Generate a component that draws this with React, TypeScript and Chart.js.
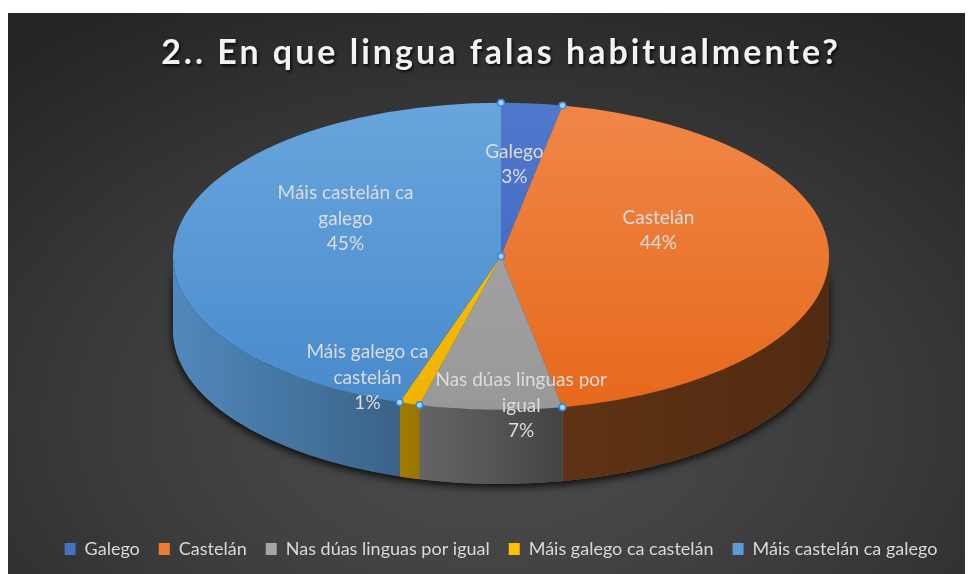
import React, { useEffect, useRef } from "react";
import { Chart, registerables } from "chart.js";

Chart.register(...registerables);

// ---- data ----
const categories = [
  "Galego",
  "Castelán",
  "Nas dúas linguas por igual",
  "Máis galego ca castelán",
  "Máis castelán ca galego",
];
const percentages = [3, 44, 7, 1, 45];
const labelLines = [
  ["Galego"],
  ["Castelán"],
  ["Nas dúas linguas por", "igual"],
  ["Máis galego ca", "castelán"],
  ["Máis castelán ca", "galego"],
];
const titleText = "2.. En que lingua falas habitualmente?";

// ---- style ----
const sliceColors = ["#4472C4", "#ED7D31", "#A5A5A5", "#FFC000", "#5B9BD5"];
const faceTop = ["#5079cc", "#ef8748", "#a9a9a9", "#ffc20a", "#68a5dd"];
const faceBottom = ["#3b60bf", "#e7681b", "#989898", "#efb300", "#478acb"];
const RX_FRAC = 0.3475; // top-face x radius / chart area width
const TILT = 0.468; // ry / rx
const DEPTH = 0.226; // wall height / rx
const LABEL_LIFT = 0.17; // perspective lift of the label centre (fraction of ry)
// [radial fraction, dx, dy] for each data label
const labelPlacement = [
  [0.43, 0, 0],
  [0.48, 0, 0],
  [1.144, 32, 0],
  [1.0, -42, 0],
  [0.48, 0, 0],
];
const labelFont = "19px Lato";
const labelLineHeight = 25.5;

function geometry(chart: any) {
  const meta = chart.getDatasetMeta(0);
  const a0 = meta.data[0];
  const area = chart.chartArea;
  const rx = area.width * RX_FRAC;
  const ry = rx * TILT;
  const depth = rx * DEPTH;
  const cx = a0.x;
  const cy = area.top + ry;
  return { arcX: a0.x, arcY: a0.y, R: a0.outerRadius, rx, ry, depth, cx, cy, meta };
}

const pie3d = {
  id: "pie3d",
  beforeDraw(chart: any) {
    const tb = chart.titleBlock;
    if (tb && !tb.__shadowed) {
      const orig = tb.draw.bind(tb);
      tb.draw = (...args: any[]) => {
        const c = chart.ctx;
        c.save();
        c.shadowColor = "rgba(0,0,0,0.75)";
        c.shadowBlur = 3;
        c.shadowOffsetX = 1.5;
        c.shadowOffsetY = 2;
        (c as any).letterSpacing = "3px";
        orig(...args);
        c.restore();
      };
      tb.__shadowed = true;
    }
  },
  beforeDatasetsDraw(chart: any) {
    const ctx = chart.ctx;
    const g = geometry(chart);
    // shadow under the cylinder
    ctx.save();
    ctx.beginPath();
    ctx.ellipse(g.cx, g.cy, g.rx, g.ry, 0, 0, Math.PI, false);
    ctx.ellipse(g.cx, g.cy + g.depth, g.rx, g.ry, 0, Math.PI, 0, true);
    ctx.closePath();
    ctx.shadowColor = "rgba(0,0,0,0.9)";
    ctx.shadowBlur = 9;
    ctx.shadowOffsetY = 3;
    ctx.fillStyle = "#1e1e1e";
    ctx.fill();
    ctx.restore();
    // side walls
    g.meta.data.forEach((arc: any, i: number) => {
      const lo = Math.max(arc.startAngle, 0);
      const hi = Math.min(arc.endAngle, Math.PI);
      if (hi <= lo) return;
      ctx.save();
      ctx.beginPath();
      ctx.ellipse(g.cx, g.cy, g.rx, g.ry, 0, lo, hi, false);
      ctx.ellipse(g.cx, g.cy + g.depth, g.rx, g.ry, 0, hi, lo, true);
      ctx.closePath();
      ctx.fillStyle = sliceColors[i];
      ctx.fill();
      const grad = ctx.createLinearGradient(g.cx - g.rx, 0, g.cx + g.rx, 0);
      grad.addColorStop(0, "rgba(0,0,0,0.12)");
      grad.addColorStop(0.3, "rgba(0,0,0,0.33)");
      grad.addColorStop(0.47, "rgba(0,0,0,0.47)");
      grad.addColorStop(0.6, "rgba(0,0,0,0.6)");
      grad.addColorStop(1, "rgba(0,0,0,0.66)");
      ctx.fillStyle = grad;
      ctx.fill();
      ctx.restore();
    });
    // squash the library's pie into the top face
    ctx.save();
    ctx.translate(g.cx, g.cy);
    ctx.scale(g.rx / g.R, g.ry / g.R);
    ctx.translate(-g.arcX, -g.arcY);
  },
  afterDatasetsDraw(chart: any) {
    const ctx = chart.ctx;
    ctx.restore();
    const g = geometry(chart);
    const data = chart.data.datasets[0].data as number[];
    const total = data.reduce((s, v) => s + v, 0);
    const lcy = g.cy - LABEL_LIFT * g.ry;
    // labels
    ctx.save();
    ctx.font = labelFont;
    ctx.fillStyle = "#dcdcdc";
    ctx.textAlign = "center";
    ctx.textBaseline = "middle";
    g.meta.data.forEach((arc: any, i: number) => {
      const mid = (arc.startAngle + arc.endAngle) / 2;
      const [f, dx, dy] = labelPlacement[i];
      const x = g.cx + g.rx * f * Math.cos(mid) + dx;
      const y = lcy + g.ry * f * Math.sin(mid) + dy;
      const lines = [...labelLines[i], Math.round((data[i] / total) * 100) + "%"];
      const y0 = y - ((lines.length - 1) * labelLineHeight) / 2;
      lines.forEach((t, k) => ctx.fillText(t, x, y0 + k * labelLineHeight));
    });
    ctx.restore();
    // selection handles
    const pts: [number, number][] = [[g.cx, g.cy]];
    g.meta.data.forEach((arc: any) => {
      pts.push([g.cx + g.rx * Math.cos(arc.startAngle), g.cy + g.ry * Math.sin(arc.startAngle)]);
    });
    ctx.save();
    pts.forEach(([x, y]) => {
      ctx.beginPath();
      ctx.arc(x, y, 3.3, 0, Math.PI * 2);
      ctx.fillStyle = "#a8d4ff";
      ctx.fill();
      ctx.lineWidth = 1.6;
      ctx.strokeStyle = "#2e8ae6";
      ctx.stroke();
    });
    ctx.restore();
  },
};

export default function App() {
  const ref = useRef<HTMLCanvasElement>(null);
  useEffect(() => {
    if (!ref.current) return;
    const chart = new Chart(ref.current, {
      type: "pie",
      data: {
        labels: categories,
        datasets: [
          {
            data: percentages,
            clip: false as any,
            borderWidth: 0,
            backgroundColor: (c: any) => {
              const i = c.dataIndex ?? 0;
              const area = c.chart.chartArea;
              if (!area || c.type !== "data") return sliceColors[i];
              const gr = c.chart.ctx.createLinearGradient(0, area.top, 0, area.bottom);
              gr.addColorStop(0, faceTop[i]);
              gr.addColorStop(1, faceBottom[i]);
              return gr;
            },
          },
        ],
      },
      options: {
        responsive: false,
        maintainAspectRatio: false,
        devicePixelRatio: 1,
        animation: false,
        events: [],
        layout: { padding: { left: 21, right: 0, top: 0, bottom: 6 } },
        plugins: {
          tooltip: { enabled: false },
          title: {
            display: true,
            text: titleText,
            color: "#f2f2f2",
            font: { family: "Lato", size: 34, weight: "bold" },
            padding: { top: 20, bottom: 29 },
          },
          legend: {
            position: "bottom",
            labels: {
              color: "#d9d9d9",
              font: { family: "Lato", size: 18 },
              boxWidth: 11,
              boxHeight: 12,
              padding: 19,
              generateLabels: () =>
                categories.map((t, i) => ({
                  text: t,
                  fillStyle: sliceColors[i],
                  strokeStyle: sliceColors[i],
                  lineWidth: 0,
                  hidden: false,
                  index: i,
                  fontColor: "#d9d9d9",
                })),
            },
          },
        },
      },
      plugins: [pie3d],
    });
    return () => chart.destroy();
  }, []);
  return (
    <div
      style={{
        marginTop: 5,
        width: 965,
        height: 561,
        background:
          "radial-gradient(ellipse 75% 85% at 50% 72%, #4c4c4c 0%, #444 30%, #3a3a3a 55%, #2e2e2e 80%, #252525 100%)",
      }}
    >
      <canvas ref={ref} width={965} height={561} style={{ display: "block" }} />
    </div>
  );
}
